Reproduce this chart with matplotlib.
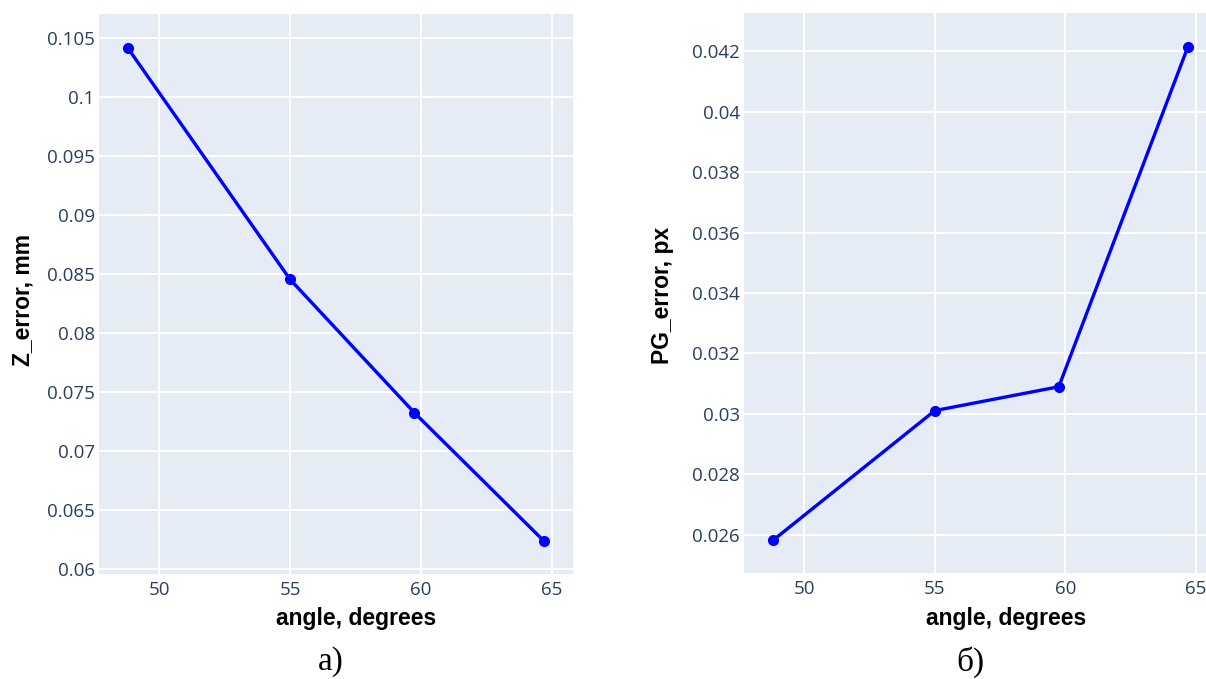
import matplotlib
matplotlib.use("Agg")
import matplotlib.pyplot as plt

# Données
angles = [48.8, 55.0, 59.75, 64.7]
z_error = [0.10415, 0.08454, 0.07324, 0.06237]
pg_error = [0.02582, 0.03011, 0.03090, 0.04215]

x_ticks = [50, 55, 60, 65]
z_ticks = [0.06, 0.065, 0.07, 0.075, 0.08, 0.085, 0.09, 0.095, 0.1, 0.105]
z_tick_labels = ["0.06", "0.065", "0.07", "0.075", "0.08", "0.085", "0.09", "0.095", "0.1", "0.105"]
pg_ticks = [0.026, 0.028, 0.03, 0.032, 0.034, 0.036, 0.038, 0.04, 0.042]
pg_tick_labels = ["0.026", "0.028", "0.03", "0.032", "0.034", "0.036", "0.038", "0.04", "0.042"]

BG = "#E5ECF6"
TICK_COLOR = "#2a3f5f"
W, H = 1206, 679

fig = plt.figure(figsize=(W / 100, H / 100), dpi=100)


def panel(rect, y, yticks, ylabels, xlim, ylim):
    ax = fig.add_axes(rect)
    ax.set_facecolor(BG)
    ax.plot(angles, y, color="#0000FF", linewidth=2.4, marker="o",
            markersize=7, zorder=3, clip_on=False)
    ax.set_xlim(*xlim)
    ax.set_ylim(*ylim)
    ax.set_xticks(x_ticks)
    ax.set_xticklabels([str(t) for t in x_ticks])
    ax.set_yticks(yticks)
    ax.set_yticklabels(ylabels)
    ax.grid(True, color="white", linewidth=1.4)
    ax.set_axisbelow(True)
    for s in ax.spines.values():
        s.set_visible(False)
    ax.tick_params(length=0, pad=3, labelsize=13.5, labelcolor=TICK_COLOR)
    for lab in ax.get_xticklabels() + ax.get_yticklabels():
        lab.set_family("Open Sans")
    ax.tick_params(axis="x", pad=5)
    return ax


# Panneau a)
panel([99 / W, 1 - 574 / H, (573 - 99) / W, (574 - 14) / H],
      z_error, z_ticks, z_tick_labels, (47.71, 65.8), (0.0596, 0.107))
# Panneau б)
panel([744 / W, 1 - 573 / H, (1206 - 744) / W, (573 - 13) / H],
      pg_error, pg_ticks, pg_tick_labels, (47.69, 65.39), (0.02474, 0.04326))

label_font = dict(family="Liberation Sans", fontweight="bold", fontsize=16.5, color="black")
fig.text(356 / W, 1 - 618 / H, "angle, degrees", ha="center", va="center", **label_font)
fig.text(1006 / W, 1 - 618 / H, "angle, degrees", ha="center", va="center", **label_font)
fig.text(23 / W, 1 - 300 / H, "Z_error, mm", rotation=90, ha="center", va="center", **label_font)
fig.text(663 / W, 1 - 295 / H, "PG_error, px", rotation=90, ha="center", va="center", **label_font)

cap_font = dict(family="Liberation Serif", fontsize=24, color="black")
fig.text(331 / W, 1 - 662 / H, "a)", ha="center", va="center", **cap_font)
fig.text(970 / W, 1 - 662 / H, "б)", ha="center", va="center", **cap_font)

fig.savefig("out.png", dpi=100, facecolor="white")
